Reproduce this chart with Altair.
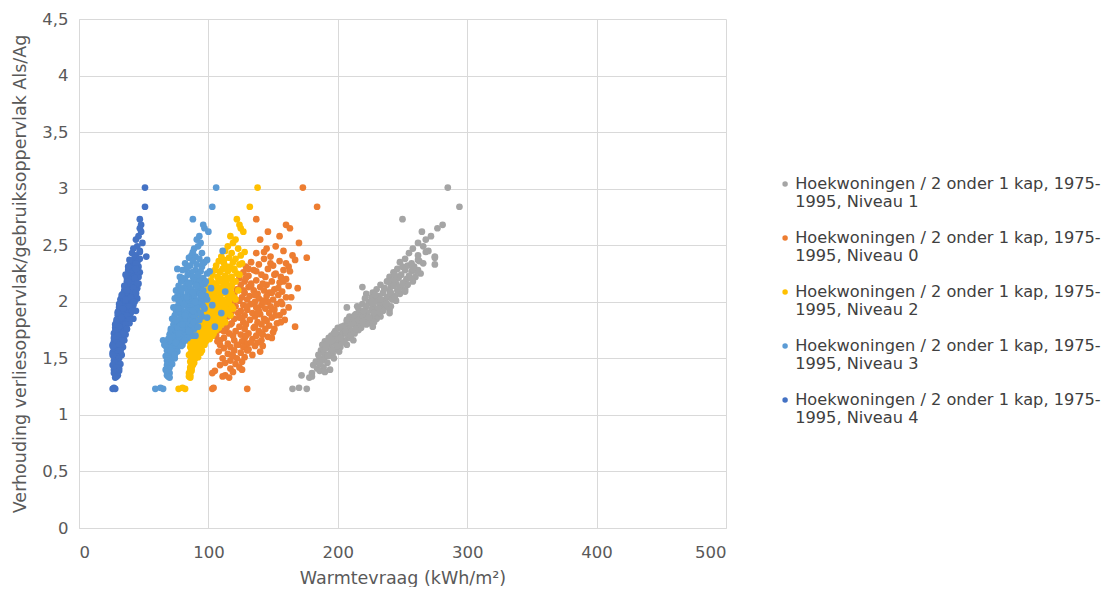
import altair as alt
import pandas as pd

# Shared y-values (ratio Als/Ag) – the same dwellings appear in every series
y_vals = [
    3.01, 2.84, 2.73, 2.68, 2.65, 2.62, 2.58, 2.55, 2.52,
    2.49, 2.47, 2.45, 2.43, 2.41, 2.40,
    2.39, 2.38, 2.36, 2.35, 2.34, 2.33, 2.32, 2.31,
    2.29, 2.28, 2.28, 2.27, 2.26, 2.25, 2.24, 2.23, 2.22, 2.22, 2.21, 2.20,
    2.19, 2.18, 2.18, 2.17, 2.16, 2.15, 2.15, 2.14, 2.13, 2.13, 2.12, 2.11, 2.11, 2.10, 2.10, 2.09,
    2.08, 2.08, 2.07, 2.07, 2.06, 2.05, 2.05, 2.04, 2.04, 2.03, 2.03, 2.02, 2.02, 2.01, 2.01, 2.00, 2.00, 2.00,
    1.99, 1.98, 1.98, 1.97, 1.97, 1.96, 1.96, 1.95, 1.95, 1.94, 1.94, 1.93, 1.93, 1.92, 1.92, 1.91, 1.91, 1.90, 1.90, 1.90,
    1.89, 1.88, 1.88, 1.87, 1.87, 1.86, 1.86, 1.85, 1.85, 1.84, 1.84, 1.83, 1.83, 1.82, 1.82, 1.81, 1.81, 1.80, 1.80, 1.80,
    1.79, 1.78, 1.78, 1.77, 1.77, 1.76, 1.76, 1.75, 1.74, 1.74, 1.73, 1.72, 1.72, 1.71, 1.71, 1.70, 1.70, 1.70,
    1.69, 1.68, 1.68, 1.67, 1.66, 1.66, 1.65, 1.65, 1.64, 1.63, 1.63, 1.62, 1.62, 1.61, 1.60, 1.60,
    1.59, 1.58, 1.57, 1.56, 1.56, 1.55, 1.54, 1.53, 1.52, 1.51, 1.50, 1.50,
    1.48, 1.47, 1.46, 1.45, 1.44, 1.42, 1.41, 1.40,
    1.39, 1.38, 1.37, 1.35, 1.34, 1.33,
    1.23, 1.23, 1.24,
    2.34, 2.31, 2.27, 2.24, 2.21, 2.18, 2.16, 2.14, 2.12, 2.10,
    2.08, 2.06, 2.04, 2.02, 2.00, 1.98, 1.96, 1.94, 1.92, 1.90,
    1.88, 1.86, 1.84, 1.82, 1.80, 1.78, 1.76, 1.74, 1.72, 1.70,
    1.68, 1.66, 1.64, 1.62, 1.61, 2.44, 2.37, 2.29, 1.57, 1.53,
]

x_niveau4 = [
    51, 51, 47, 48, 47, 48, 46, 44, 49,
    45, 42, 47, 41, 44, 52,
    43, 47, 40, 45, 41, 44, 39, 46,
    41, 45, 38, 43, 47, 40, 44, 39, 42, 46, 37, 43,
    40, 44, 37, 42, 46, 38, 41, 36, 43, 39, 45, 37, 41, 35, 44, 39,
    36, 41, 44, 34, 39, 37, 42, 33, 40, 45, 35, 38, 32, 41, 36, 43, 34, 39,
    35, 40, 32, 37, 42, 34, 38, 31, 36, 41, 33, 39, 35, 44, 32, 37, 30, 40, 34, 38,
    33, 36, 30, 39, 34, 31, 37, 42, 32, 35, 29, 38, 33, 36, 30, 34, 39, 31, 35, 28,
    32, 36, 30, 34, 28, 37, 31, 33, 29, 35, 31, 27, 34, 30, 36, 28, 32, 33,
    30, 34, 28, 32, 29, 35, 27, 31, 33, 28, 30, 26, 32, 29, 34, 27,
    30, 27, 32, 28, 31, 26, 29, 33, 27, 30, 28, 31,
    27, 30, 28, 32, 26, 29, 31, 27,
    31, 28, 27, 30, 29, 28,
    26, 28, 27,
    44, 38, 45, 36, 43, 38, 45, 35, 42, 37,
    44, 33, 40, 36, 42, 31, 39, 34, 41, 30,
    37, 33, 39, 29, 36, 31, 37, 28, 34, 30,
    27, 33, 29, 31, 26, 47, 39, 44, 32, 26,
]

x_niveau3 = [
    106, 103, 88, 96, 97, 100, 93, 91, 94,
    92, 89, 111, 95, 87, 90,
    85, 93, 88, 97, 82, 91, 86, 95,
    83, 90, 80, 94, 87, 99, 84, 92, 78, 88, 96, 82,
    89, 93, 79, 86, 97, 83, 90, 77, 94, 85, 81, 92, 87, 75, 96, 113,
    84, 90, 79, 93, 86, 76, 98, 82, 89, 74, 94, 85, 80, 91, 77, 87, 95, 83,
    78, 88, 93, 103, 81, 76, 86, 91, 73, 84, 97, 79, 89, 75, 85, 92, 80, 110, 87, 77,
    83, 90, 74, 86, 95, 79, 88, 72, 84, 93, 77, 86, 81, 90, 75, 85, 79, 88, 73, 83,
    78, 87, 105, 74, 82, 89, 76, 84, 71, 80, 86, 73, 78, 83, 70, 88, 75, 81,
    72, 79, 84, 69, 76, 65, 81, 73, 68, 77, 71, 74, 80, 67, 72, 76,
    70, 74, 68, 72, 76, 69, 73, 70, 67, 72, 69, 74,
    68, 71, 69, 72, 68, 70, 69, 67,
    69, 68, 70, 68, 69, 70,
    59, 65, 63,
    96, 84, 101, 92, 80, 98, 85, 91, 102, 79,
    88, 95, 83, 99, 90, 81, 96, 77, 88, 94,
    82, 99, 75, 89, 80, 92, 71, 85, 77, 90,
    70, 82, 75, 66, 79, 88, 99, 76, 71, 74,
]

x_niveau2 = [
    138, 132, 122, 124, 125, 127, 117, 121, 119,
    115, 123, 113, 118, 125, 110,
    116, 121, 108, 119, 112, 124, 106, 117,
    111, 120, 105, 115, 109, 122, 103, 113, 118, 107, 116, 110,
    102, 114, 108, 119, 104, 112, 100, 116, 107, 111, 103, 117, 99, 109, 114, 106,
    101, 112, 118, 104, 98, 109, 115, 102, 120, 107, 96, 111, 103, 116, 99, 108, 113, 101,
    97, 106, 114, 100, 110, 95, 118, 104, 108, 98, 112, 102, 116, 94, 106, 111, 99, 109, 103, 114,
    96, 107, 101, 112, 93, 105, 99, 110, 95, 104, 108, 97, 102, 113, 92, 100, 106, 96, 110, 103,
    94, 105, 99, 108, 91, 101, 96, 106, 93, 102, 98, 104, 90, 100, 95, 103, 92, 97,
    89, 99, 94, 101, 91, 96, 88, 98, 93, 87, 95, 90, 97, 92, 86, 94,
    89, 93, 87, 91, 88, 94, 86, 90, 88, 92, 87, 90,
    88, 86, 89, 87, 88, 86, 87, 86,
    87, 86, 85, 86, 85, 86,
    77, 82, 80,
    126, 114, 109, 124, 113, 121, 105, 118, 110, 123,
    97, 116, 105, 121, 94, 113, 102, 119, 96, 107,
    117, 92, 111, 101, 94, 108, 97, 103, 88, 100,
    93, 98, 86, 96, 91, 128, 112, 120, 95, 85,
]

x_niveau0 = [
    173, 184, 137, 160, 163, 146, 155, 140, 170,
    152, 145, 158, 137, 165, 148,
    176, 143, 155, 133, 160, 139, 150, 129,
    146, 158, 135, 163, 127, 152, 141, 131, 156, 144, 124, 160,
    137, 149, 128, 155, 133, 145, 125, 162, 140, 131, 169, 151, 122, 143, 135, 157,
    128, 147, 138, 120, 154, 132, 145, 126, 160, 139, 118, 150, 130, 142, 124, 156, 136, 146,
    119, 153, 133, 127, 141, 148, 121, 162, 137, 116, 144, 130, 151, 125, 139, 158, 118, 134, 147, 123,
    140, 128, 155, 115, 136, 149, 126, 143, 120, 159, 132, 112, 145, 127, 138, 153, 118, 141, 129, 110,
    147, 124, 167, 135, 114, 144, 128, 108, 139, 121, 150, 131, 116, 142, 125, 106, 137, 119,
    146, 128, 112, 134, 120, 141, 107, 126, 138, 115, 130, 109, 123, 136, 117, 127,
    112, 131, 120, 140, 108, 125, 115, 134, 119, 128, 111, 122,
    117, 126, 113, 121, 109, 124, 117, 126,
    105, 119, 103, 113, 111, 116,
    103, 130, 104,
    148, 162, 137, 151, 129, 158, 142, 133, 154, 127,
    149, 136, 164, 121, 143, 157, 130, 149, 114, 138,
    152, 124, 144, 156, 117, 136, 151, 112, 141, 129,
    149, 109, 133, 122, 142, 143, 167, 131, 130, 118,
]

x_niveau1 = [
    285, 294, 250, 281, 277, 265, 272, 268, 262,
    266, 258, 270, 255, 262, 275,
    275, 252, 263, 248, 266, 275, 254, 259,
    246, 262, 252, 257, 243, 264, 249, 255, 240, 260, 247, 253,
    243, 258, 238, 251, 245, 233, 254, 241, 219, 248, 236, 252, 230, 246, 240, 252,
    235, 227, 248, 222, 240, 232, 244, 226, 238, 230, 221, 242, 234, 228, 245, 225, 237, 231,
    224, 238, 219, 233, 227, 241, 222, 207, 236, 230, 216, 240, 226, 221, 235, 218, 229, 240, 223, 232,
    214, 228, 221, 209, 233, 218, 226, 211, 230, 215, 223, 207, 220, 228, 212, 218, 225, 209, 216, 222,
    205, 214, 227, 200, 218, 209, 203, 216, 198, 211, 205, 197, 213, 201, 208, 195, 210, 203,
    198, 208, 193, 203, 199, 212, 190, 205, 196, 201, 192, 207, 188, 199, 194, 202,
    191, 198, 187, 195, 201, 189, 196, 185, 193, 190, 186, 197,
    188, 183, 192, 186, 181, 189, 184, 194,
    186, 190, 180, 172, 180, 178,
    165, 176, 170,
    257, 250, 261, 244, 256, 239, 250, 243, 236, 247,
    241, 229, 244, 233, 226, 237, 215, 231, 220, 228,
    213, 224, 207, 219, 212, 203, 214, 206, 198, 210,
    202, 195, 205, 191, 199, 268, 262, 258, 196, 192,
]

series_names = [
    "Hoekwoningen / 2 onder 1 kap, 1975-1995, Niveau 1",
    "Hoekwoningen / 2 onder 1 kap, 1975-1995, Niveau 0",
    "Hoekwoningen / 2 onder 1 kap, 1975-1995, Niveau 2",
    "Hoekwoningen / 2 onder 1 kap, 1975-1995, Niveau 3",
    "Hoekwoningen / 2 onder 1 kap, 1975-1995, Niveau 4",
]
series_colors = ["#A5A5A5", "#ED7D31", "#FFC000", "#5B9BD5", "#4472C4"]
x_ticks = [0, 100, 200, 300, 400, 500]
y_ticks = [0, 0.5, 1, 1.5, 2, 2.5, 3, 3.5, 4, 4.5]

rows = []
k = 0
for name, xs in zip(series_names, [x_niveau1, x_niveau0, x_niveau2, x_niveau3, x_niveau4]):
    for xv, yv in zip(xs, y_vals):
        rows.append({"series": name, "warmte": xv, "ratio": yv, "ord": k})
        k += 1
df = pd.DataFrame(rows)

FONT = "DejaVu Sans"
TXT = "#595959"
GRID = "#D9D9D9"

chart = alt.Chart(df).mark_circle(size=45, opacity=1).encode(
    x=alt.X(
        "warmte:Q",
        scale=alt.Scale(domain=[0, 500], nice=False),
        axis=alt.Axis(values=x_ticks, title="Warmtevraag (kWh/m²)", labelPadding=16, titlePadding=9),
    ),
    y=alt.Y(
        "ratio:Q",
        scale=alt.Scale(domain=[0, 4.5], nice=False),
        axis=alt.Axis(
            values=y_ticks,
            labelExpr="replace(toString(datum.value), '.', ',')",
            title="Verhouding verliesoppervlak/gebruiksoppervlak Als/Ag",
            labelPadding=11,
            titlePadding=12,
        ),
    ),
    color=alt.Color(
        "series:N",
        scale=alt.Scale(domain=series_names, range=series_colors),
        legend=alt.Legend(
            title=None,
            orient="none",
            legendX=698,
            legendY=157,
            labelExpr="[slice(datum.label, 0, 35), slice(datum.label, 35)]",
            symbolType="circle",
            symbolSize=30,
            labelFontSize=16.2,
            labelFont=FONT,
            labelColor="#404040",
            labelLimit=500,
            rowPadding=19,
            labelOffset=2,
        ),
    ),
    order=alt.Order("ord:Q"),
).properties(
    width=647,
    height=509,
    autosize=alt.AutoSizeParams(type="none"),
    padding={"left": 71, "top": 11, "right": 386, "bottom": 59},
).configure_axis(
    grid=True,
    gridColor=GRID,
    domainColor=GRID,
    ticks=False,
    labelFont=FONT,
    labelFontSize=16.5,
    labelColor=TXT,
    titleFont=FONT,
    titleFontSize=17.5,
    titleColor=TXT,
    titleFontWeight="normal",
).configure_view(strokeWidth=0)

chart.save("out.html", embed_options={"renderer": "svg", "actions": False})
